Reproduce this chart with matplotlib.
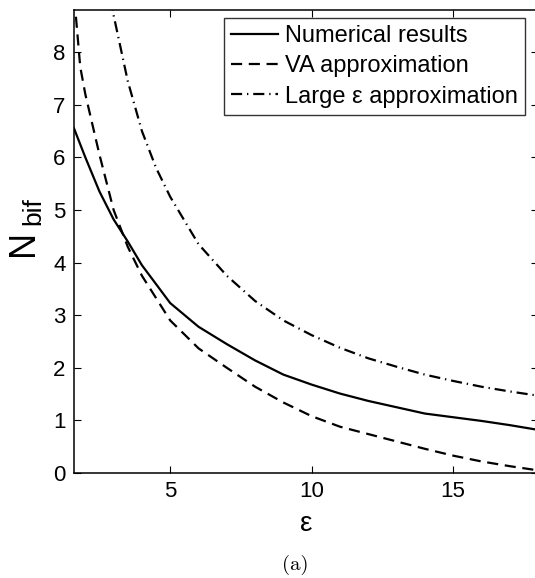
import matplotlib
matplotlib.use('Agg')
import matplotlib.pyplot as plt

# bifurcation threshold vs coupling epsilon
eps_num = [1.6, 2, 2.5, 3, 3.5, 4, 5, 6, 7, 8, 9, 10, 11, 12, 13, 14, 15, 16, 17, 18]
n_num = [6.55, 6.0, 5.35, 4.82, 4.40, 3.95, 3.23, 2.78, 2.45, 2.14, 1.87, 1.68, 1.51,
         1.37, 1.25, 1.13, 1.06, 0.99, 0.91, 0.82]

eps_va = [1.6, 1.82, 2, 2.5, 3, 3.5, 4, 5, 6, 7, 8, 9, 10, 11, 12, 13, 14, 15, 16, 17, 18]
n_va = [9.1, 7.72, 7.2, 6.05, 5.0, 4.3, 3.75, 2.9, 2.37, 2.0, 1.64, 1.34, 1.08, 0.88,
        0.74, 0.6, 0.46, 0.33, 0.22, 0.13, 0.05]

eps_large = [2.9, 3, 3.5, 4, 4.5, 5, 6, 7, 8, 9, 10, 11, 12, 13, 14, 15, 16, 17, 18]
n_large = [9.0, 8.7, 7.45, 6.5, 5.8, 5.25, 4.35, 3.75, 3.27, 2.9, 2.62, 2.38, 2.18,
           2.02, 1.87, 1.75, 1.64, 1.55, 1.47]

labels = ['Numerical results', 'VA approximation', u'Large \u03b5 approximation']
xticks = [5, 10, 15]
yticks = [0, 1, 2, 3, 4, 5, 6, 7, 8]

plt.rcParams['font.family'] = ['Liberation Sans', 'DejaVu Sans']

W, H = 535, 578
fig = plt.figure(figsize=(W / 100, H / 100), dpi=100)
ax = fig.add_axes([74 / W, 1 - 473 / H, (538 - 74) / W, (473 - 10) / H])

lw = 1.6
ax.plot(eps_num, n_num, color='k', lw=lw, label=labels[0])
ax.plot(eps_va, n_va, color='k', lw=lw, dashes=(5, 3), label=labels[1])
ax.plot(eps_large, n_large, color='k', lw=lw, dashes=(5, 2.2, 0.6, 2.2), label=labels[2])

ax.set_xlim(1.6, 18)
ax.set_ylim(0, 8.8)
ax.set_xticks(xticks)
ax.set_yticks(yticks)
ax.tick_params(direction='in', length=5, width=0.8, labelsize=16, top=True, right=True,
               pad=6)
for s in ax.spines.values():
    s.set_linewidth(1.1)

ax.set_xlabel(u'\u03b5', fontsize=20, labelpad=6)

# y label: N with a large subscript, drawn as two rotated texts
fig.text(24 / W, 1 - 243 / H, 'N', fontsize=26, rotation=90, ha='center', va='center')
fig.text(33 / W, 1 - 211 / H, 'bif', fontsize=19, rotation=90, ha='center', va='center')

leg = ax.legend(loc='upper right', bbox_to_anchor=((525 - 74) / 464, 1 - 8 / 463),
                fontsize=17, frameon=True, fancybox=False, handlelength=2.0,
                handletextpad=0.3, labelspacing=0.35, borderpad=0.3, borderaxespad=0)
leg.get_frame().set_edgecolor('k')
leg.get_frame().set_linewidth(1.0)

fig.text(295 / W, 1 - 565 / H, '(a)', fontsize=15, family='cmr10', ha='center',
         va='center')

fig.savefig('out.png', dpi=100)
